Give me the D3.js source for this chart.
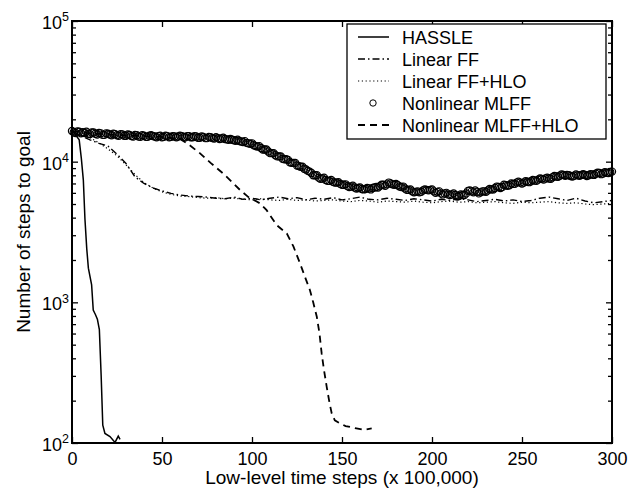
<!DOCTYPE html>
<html>
<head>
<meta charset="utf-8">
<script src="https://cdn.jsdelivr.net/npm/d3@7"></script>
<style>
  html, body { margin: 0; padding: 0; background: #fff; }
  svg { display: block; font-family: "Liberation Sans", Arial, Helvetica, sans-serif; }
</style>
</head>
<body>
<svg id="chart" width="641" height="491"></svg>
<script>
// ---------------- DATA ----------------
const seriesNames = ["HASSLE", "Linear FF", "Linear FF+HLO", "Nonlinear MLFF", "Nonlinear MLFF+HLO"];

const xTicks = [0, 50, 100, 150, 200, 250, 300];
const yTicks = [100, 1000, 10000, 100000];
const yExponents = ["2", "3", "4", "5"];
const xTitle = "Low-level time steps (x 100,000)";
const yTitle = "Number of steps to goal";

// HASSLE (solid)
const hassleX = [0, 2, 4, 5.2, 6.3, 7.2, 8.2, 9.1, 10.9, 11.8, 13, 14.1, 15.2, 16.2, 17.1, 18.3, 21.1, 23.9, 25.7, 26.7];
const hassleY = [16500, 15500, 14300, 10500, 7400, 3900, 2400, 1750, 1330, 880, 820, 760, 640, 300, 134, 117, 111, 101, 112, 106];

// Linear FF (dash-dot), every 5 units
const linFFX = [0,5,10,15,20,25,30,35,40,45,50,55,60,65,70,75,80,85,90,95,100,105,110,115,120,125,130,135,140,145,150,155,160,165,170,175,180,185,190,195,200,205,210,215,220,225,230,235,240,245,250,255,260,265,270,275,280,285,290,295,300];
const linFFY = [16500,15300,14300,13500,12900,11300,9700,7800,7000,6500,6200,5950,5800,5700,5650,5600,5500,5450,5600,5400,5500,5350,5500,5600,5450,5550,5350,5500,5400,5550,5350,5450,5600,5400,5350,5500,5400,5300,5450,5350,5250,5400,5300,5450,5350,5200,5300,5400,5250,5350,5200,5300,5500,5600,5450,5300,5500,5250,5100,5200,5300];

// Linear FF+HLO (dotted), every 5 units
const linHLOX = [0,5,10,15,20,25,30,35,40,45,50,55,60,65,70,75,80,85,90,95,100,105,110,115,120,125,130,135,140,145,150,155,160,165,170,175,180,185,190,195,200,205,210,215,220,225,230,235,240,245,250,255,260,265,270,275,280,285,290,295,300];
const linHLOY = [16500,15400,14800,13600,12300,11000,9500,8100,7100,6500,6100,5850,5700,5650,5550,5500,5550,5450,5500,5400,5350,5450,5350,5300,5400,5300,5350,5250,5300,5350,5250,5200,5300,5250,5150,5250,5200,5150,5250,5150,5100,5200,5250,5150,5200,5100,5150,5200,5100,5050,5150,5100,5150,5200,5100,5050,5100,5000,4950,5000,5050];

// Nonlinear MLFF (circles), one value per unit step 0..300
const mlffX = d3.range(0, 301);
const mlffY = [
  16500,16200,16000,16400,16300,15900,16200,16000,16300,15800,
  15700,16100,16100,15800,15600,16000,15900,15500,15500,15900,
  15800,15600,15400,15800,15700,15400,15300,15700,15600,15300,
  15300,15600,15500,15200,15100,15500,15400,15100,15000,15400,
  15300,15000,15000,15300,15400,15200,15100,14900,15200,15300,
  14900,15000,15300,15200,14900,15000,15200,15100,14900,15100,
  15300,15200,15000,14900,15200,15200,14900,14900,15200,15100,
  14800,14800,15100,15000,14700,14700,15000,14900,14700,14600,
  14900,14700,14500,14600,14800,14500,14400,14300,14500,14300,
  14200,14100,14300,14000,13900,13800,14000,13600,13500,13400,
  13500,13100,12900,12800,12900,12500,12200,12200,12200,11800,
  11500,11500,11500,11100,10900,10900,10900,10500,10400,10400,
  10300,9900,9800,9800,9800,9400,9300,9200,9200,8900,
  8800,8600,8500,8300,8000,8000,8000,7700,7550,7600,
  7700,7400,7300,7300,7400,7200,7100,7100,7150,6950,
  6850,6850,6900,6700,6600,6650,6750,6550,6450,6500,
  6550,6400,6350,6400,6500,6450,6350,6500,6550,6600,
  6550,6700,6850,6850,6750,6900,7100,7000,6900,6850,
  6950,6800,6650,6600,6650,6450,6300,6300,6350,6150,
  6050,6100,6150,6050,6100,6250,6350,6300,6250,6300,
  6350,6150,6000,6100,6150,5950,5850,5950,6000,5850,
  5800,5850,5950,5800,5650,5700,5850,5800,5800,5950,
  6200,6250,6150,6050,6250,6100,5950,6050,6150,6150,
  6100,6250,6400,6350,6350,6500,6650,6600,6500,6600,
  6850,6800,6750,6800,7000,6950,6950,7100,7200,7100,
  7000,7100,7250,7200,7150,7250,7400,7350,7300,7450,
  7600,7550,7450,7600,7700,7600,7550,7750,7900,7850,
  7800,7950,8100,8050,7950,8050,8000,7900,7850,7950,
  8100,8000,7950,8050,8150,8050,7900,8000,8150,8100,
  8050,8200,8350,8300,8150,8250,8400,8350,8300,8450,
  8500];

// Nonlinear MLFF+HLO (dashed)
const mlffHLOX = [0,10,20,30,40,50,60,64,71,77,84,89.6,93.3,98,104.4,108,113.7,119.3,123,126.7,130,132.2,134,136,137.5,138.7,140,141.5,143,144.3,146,148.9,152,158,162,166.5];
const mlffHLOY = [16500,15900,15600,15400,15200,15000,14500,13500,11500,9800,8230,7030,6300,5600,5060,4540,3540,3090,2500,1890,1450,1220,1000,790,600,433,330,251,195,162,145,138,132,127,124,127];

// ---------------- CHART ----------------
const L = 72, R = 612, T = 21, B = 443;
const svg = d3.select("#chart");

const x = d3.scaleLinear().domain([0, 300]).range([L, R]);
const y = d3.scaleLog().domain([100, 100000]).range([B, T]);

const minorTicks = [];
[100, 1000, 10000].forEach(d => { for (let k = 2; k <= 9; k++) minorTicks.push(k * d); });

const toPts = (xs, ys) => xs.map((v, i) => [v, ys[i]]);
const line = d3.line().x(d => x(d[0])).y(d => y(d[1]));

const plot = svg.append("g");

const styles = [
  { dash: null, width: 1.5 },
  { dash: "7,3,1.5,3", width: 1.4 },
  { dash: "1.2,2.6", width: 1.2 },
  null,
  { dash: "7,5", width: 1.8 }
];

plot.append("path").datum(toPts(hassleX, hassleY))
  .attr("d", line).attr("fill", "none").attr("stroke", "#000")
  .attr("stroke-width", styles[0].width);

plot.append("path").datum(toPts(linFFX, linFFY))
  .attr("d", line).attr("fill", "none").attr("stroke", "#000")
  .attr("stroke-width", styles[1].width).attr("stroke-dasharray", styles[1].dash);

plot.append("path").datum(toPts(linHLOX, linHLOY))
  .attr("d", line).attr("fill", "none").attr("stroke", "#000")
  .attr("stroke-width", styles[2].width).attr("stroke-dasharray", styles[2].dash);

plot.append("g").selectAll("circle").data(toPts(mlffX, mlffY)).join("circle")
  .attr("cx", d => x(d[0])).attr("cy", d => y(d[1])).attr("r", 3.6)
  .attr("fill", "none").attr("stroke", "#000").attr("stroke-width", 1.2);

plot.append("path").datum(toPts(mlffHLOX, mlffHLOY))
  .attr("d", line).attr("fill", "none").attr("stroke", "#000")
  .attr("stroke-width", styles[4].width).attr("stroke-dasharray", styles[4].dash);

// axes
const fontMain = 18;
const gx = svg.append("g").attr("transform", `translate(0,${B})`)
  .call(d3.axisBottom(x).tickValues(xTicks).tickFormat(d3.format("d"))
    .tickSizeInner(-6).tickSizeOuter(0).tickPadding(9));
gx.selectAll("text").attr("font-size", fontMain).attr("fill", "#000")
  .attr("font-family", "Liberation Sans, Arial, sans-serif");

svg.append("g").attr("transform", `translate(0,${T})`)
  .call(d3.axisTop(x).tickValues(xTicks).tickFormat("").tickSizeInner(-6).tickSizeOuter(0));

const gy = svg.append("g").attr("transform", `translate(${L},0)`)
  .call(d3.axisLeft(y).tickValues(yTicks).tickSizeInner(-6).tickSizeOuter(0).tickPadding(3));
gy.selectAll("text").each(function(d, i) {
  const t = d3.select(this);
  t.text(null).attr("font-size", fontMain).attr("fill", "#000").attr("dy", "0.42em")
    .attr("font-family", "Liberation Sans, Arial, sans-serif");
  t.append("tspan").text("10");
  t.append("tspan").text(yExponents[i]).attr("font-size", 12.5).attr("dy", "-0.62em");
});

svg.append("g").attr("transform", `translate(${L},0)`)
  .call(d3.axisLeft(y).tickValues(minorTicks).tickFormat("").tickSizeInner(-4).tickSizeOuter(0));
svg.append("g").attr("transform", `translate(${R},0)`)
  .call(d3.axisRight(y).tickValues(yTicks).tickFormat("").tickSizeInner(-6).tickSizeOuter(0));
svg.append("g").attr("transform", `translate(${R},0)`)
  .call(d3.axisRight(y).tickValues(minorTicks).tickFormat("").tickSizeInner(-4).tickSizeOuter(0));

svg.selectAll(".domain").remove();
svg.selectAll(".tick line").attr("stroke", "#000").attr("stroke-width", 1.3);

// frame
svg.append("rect").attr("x", L).attr("y", T).attr("width", R - L).attr("height", B - T)
  .attr("fill", "none").attr("stroke", "#000").attr("stroke-width", 2);

// axis titles
svg.append("text").attr("x", (L + R) / 2).attr("y", 484)
  .attr("text-anchor", "middle").attr("font-size", 19).attr("fill", "#000")
  .text(xTitle);
svg.append("text").attr("transform", `translate(30,${(T + B) / 2}) rotate(-90)`)
  .attr("text-anchor", "middle").attr("font-size", 19).attr("fill", "#000")
  .text(yTitle);

// legend
const lg = svg.append("g");
lg.append("rect").attr("x", 347).attr("y", 24).attr("width", 259).attr("height", 115)
  .attr("fill", "#fff").attr("stroke", "#000").attr("stroke-width", 1.3);
seriesNames.forEach((name, i) => {
  const ry = 37 + i * 22;
  if (i === 3) {
    lg.append("circle").attr("cx", 373).attr("cy", ry).attr("r", 3.2)
      .attr("fill", "none").attr("stroke", "#000").attr("stroke-width", 1);
  } else {
    const s = styles[i];
    lg.append("line").attr("x1", 358).attr("x2", 389).attr("y1", ry).attr("y2", ry)
      .attr("stroke", "#000").attr("stroke-width", s.width)
      .attr("stroke-dasharray", s.dash);
  }
  lg.append("text").attr("x", 402).attr("y", ry + 6.5).attr("font-size", 18)
    .attr("fill", "#000").text(name);
});
</script>
</body>
</html>
